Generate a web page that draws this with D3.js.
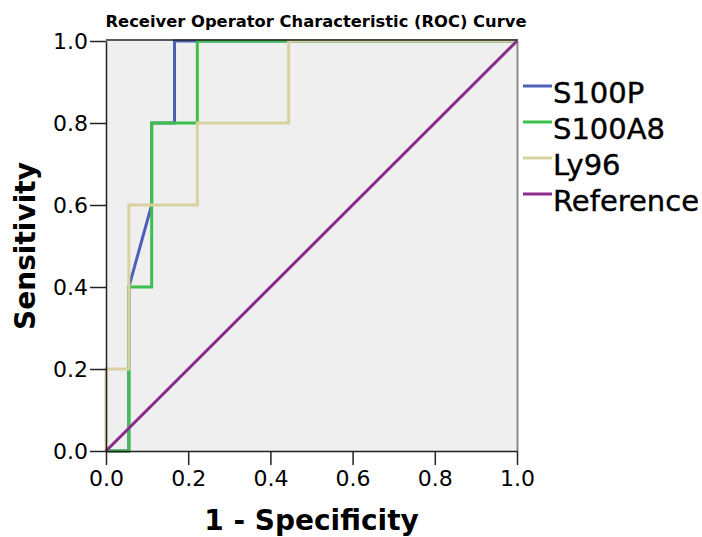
<!DOCTYPE html>
<html>
<head>
<meta charset="utf-8">
<script src="https://cdn.jsdelivr.net/npm/d3@7"></script>
<style>
  html, body { margin: 0; padding: 0; background: #ffffff; }
  svg { display: block; }
</style>
</head>
<body>
<svg id="chart" width="702" height="537"></svg>
<script>
// ROC curve points: false positive rate (1 - specificity) vs sensitivity
const s100pFpr   = [0, 0.0556, 0.0556, 0.1111, 0.1111, 0.1667, 0.1667, 1];
const s100pTpr   = [0, 0,      0.4,    0.6,    0.8,    0.8,    1,      1];
const s100a8Fpr  = [0, 0.0556, 0.0556, 0.1111, 0.1111, 0.2222, 0.2222, 1];
const s100a8Tpr  = [0, 0,      0.4,    0.4,    0.8,    0.8,    1,      1];
const ly96Fpr    = [0, 0,   0.0556, 0.0556, 0.2222, 0.2222, 0.4444, 0.4444, 1];
const ly96Tpr    = [0, 0.2, 0.2,    0.6,    0.6,    0.8,    0.8,    1,      1];
const refFpr     = [0, 1];
const refTpr     = [0, 1];

const seriesNames  = ["S100P", "S100A8", "Ly96", "Reference"];
const seriesColors = ["#4c60b8", "#3dbf4b", "#d7d2a0", "#8a2a8d"];
const tickValues   = [0, 0.2, 0.4, 0.6, 0.8, 1.0];

const titleText = "Receiver Operator Characteristic (ROC) Curve";
const xTitle = "1 - Specificity";
const yTitle = "Sensitivity";

const series = [
  { name: seriesNames[0], color: seriesColors[0], x: s100pFpr,  y: s100pTpr },
  { name: seriesNames[1], color: seriesColors[1], x: s100a8Fpr, y: s100a8Tpr },
  { name: seriesNames[2], color: seriesColors[2], x: ly96Fpr,   y: ly96Tpr },
  { name: seriesNames[3], color: seriesColors[3], x: refFpr,    y: refTpr }
];

const svg = d3.select("#chart");
const plot = { left: 106, right: 517, top: 41, bottom: 451 };

const x = d3.scaleLinear().domain([0, 1]).range([plot.left, plot.right]);
const y = d3.scaleLinear().domain([0, 1]).range([plot.bottom, plot.top]);

// plot background
svg.append("rect")
  .attr("x", plot.left).attr("y", plot.top)
  .attr("width", plot.right - plot.left)
  .attr("height", plot.bottom - plot.top)
  .attr("fill", "#efefef");

// right frame edge
svg.append("line")
  .attr("x1", plot.right + 0.5).attr("x2", plot.right + 0.5)
  .attr("y1", plot.top).attr("y2", plot.bottom)
  .attr("stroke", "#8c8c8c").attr("stroke-width", 2);

// curves
const line = d3.line().x(d => x(d[0])).y(d => y(d[1]));
const clipId = "plotClip";
svg.append("clipPath").attr("id", clipId)
  .append("rect")
  .attr("x", plot.left - 2).attr("y", plot.top - 2)
  .attr("width", plot.right - plot.left + 4)
  .attr("height", plot.bottom - plot.top + 4);

const curves = svg.append("g").attr("clip-path", `url(#${clipId})`);
series.forEach(s => {
  curves.append("path")
    .datum(s.x.map((v, i) => [v, s.y[i]]))
    .attr("d", line)
    .attr("fill", "none")
    .attr("stroke", s.color)
    .attr("stroke-width", 3)
    .attr("stroke-linejoin", "miter");
});

// top frame edge, over the curves
svg.append("line")
  .attr("x1", plot.left).attr("x2", plot.right + 1)
  .attr("y1", plot.top - 1).attr("y2", plot.top - 1)
  .attr("stroke", "#222").attr("stroke-width", 1.5);

// axes
const fmt = d3.format(".1f");
const xAxis = svg.append("g")
  .attr("transform", `translate(0,${plot.bottom})`)
  .call(d3.axisBottom(x).tickValues(tickValues).tickFormat(fmt)
        .tickSize(14).tickSizeOuter(0).tickPadding(5));
const yAxis = svg.append("g")
  .attr("transform", `translate(${plot.left},0)`)
  .call(d3.axisLeft(y).tickValues(tickValues).tickFormat(fmt)
        .tickSize(16).tickSizeOuter(0).tickPadding(2));

[xAxis, yAxis].forEach(a => {
  a.select(".domain").attr("stroke", "#222").attr("stroke-width", 1.5);
  a.selectAll(".tick line").attr("stroke", "#222").attr("stroke-width", 1.5);
  a.selectAll(".tick text")
    .attr("fill", "#000")
    .style("font-family", "'DejaVu Sans', sans-serif")
    .style("font-size", "22px");
});

// title
svg.append("text")
  .attr("x", 316).attr("y", 27)
  .attr("text-anchor", "middle")
  .attr("textLength", 421)
  .attr("lengthAdjust", "spacingAndGlyphs")
  .style("font-family", "'DejaVu Sans', sans-serif")
  .style("font-weight", "bold")
  .style("font-size", "15px")
  .text(titleText);

// axis titles
svg.append("text")
  .attr("x", (plot.left + plot.right) / 2).attr("y", 530)
  .attr("text-anchor", "middle")
  .style("font-family", "'DejaVu Sans', sans-serif")
  .style("font-weight", "bold")
  .style("font-size", "28px")
  .text(xTitle);

svg.append("text")
  .attr("transform", `translate(35,${(plot.top + plot.bottom) / 2}) rotate(-90)`)
  .attr("text-anchor", "middle")
  .style("font-family", "'DejaVu Sans', sans-serif")
  .style("font-weight", "bold")
  .style("font-size", "28px")
  .text(yTitle);

// legend
const legend = svg.append("g");
series.forEach((s, i) => {
  const ly = 86 + i * 36;
  legend.append("line")
    .attr("x1", 523).attr("x2", 552)
    .attr("y1", ly).attr("y2", ly)
    .attr("stroke", s.color).attr("stroke-width", 3);
  legend.append("text")
    .attr("x", 553).attr("y", ly + 16.5)
    .style("font-family", "'DejaVu Sans', sans-serif")
    .style("font-size", "29px")
    .attr("fill", "#000")
    .attr("stroke", "#000")
    .attr("stroke-width", 0.4)
    .text(s.name);
});
</script>
</body>
</html>
